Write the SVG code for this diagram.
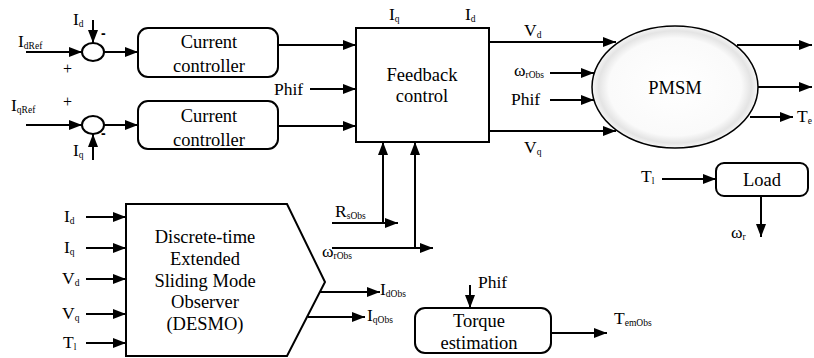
<svg xmlns="http://www.w3.org/2000/svg" width="814" height="358" viewBox="0 0 814 358" font-family="'Liberation Serif', 'Times New Roman', serif">
<defs>
<marker id="ah" markerUnits="userSpaceOnUse" markerWidth="13" markerHeight="10" refX="13" refY="5" orient="auto">
<path d="M0,0 L13,5 L0,10 z" fill="#000"/>
</marker>
<radialGradient id="pg" cx="0.5" cy="0.5" r="0.5">
<stop offset="0" stop-color="#ffffff"/>
<stop offset="0.8" stop-color="#fafafa"/>
<stop offset="0.92" stop-color="#e4e4e4"/>
<stop offset="1" stop-color="#f6f6f6"/>
</radialGradient>
<style>
text{fill:#000}
.big{font-size:18.5px}
.lbl{font-size:17.5px}
.s{font-size:9.5px}
.box{fill:#fff;stroke:#000;stroke-width:2}
.ar{stroke:#000;stroke-width:2;fill:none;marker-end:url(#ah)}
</style>
</defs>
<rect width="814" height="358" fill="#fff"/>

<g id="connectors">
<line class="ar" x1="26" y1="52" x2="82" y2="52"/>
<line class="ar" x1="93" y1="20" x2="93" y2="43"/>
<line class="ar" x1="104" y1="52" x2="138" y2="52"/>
<line class="ar" x1="26" y1="125" x2="82" y2="125"/>
<line class="ar" x1="93" y1="160" x2="93" y2="134"/>
<line class="ar" x1="104" y1="125" x2="138" y2="125"/>
<line class="ar" x1="278" y1="45" x2="356" y2="45"/>
<line class="ar" x1="310" y1="89" x2="356" y2="89"/>
<line class="ar" x1="278" y1="126" x2="356" y2="126"/>
<line class="ar" x1="489" y1="42" x2="616" y2="42"/>
<line class="ar" x1="550" y1="73" x2="594" y2="73"/>
<line class="ar" x1="550" y1="100" x2="594" y2="100"/>
<line class="ar" x1="489" y1="131" x2="616" y2="131"/>
<line class="ar" x1="737" y1="45" x2="812" y2="45"/>
<line class="ar" x1="758" y1="87" x2="812" y2="87"/>
<line class="ar" x1="750" y1="117" x2="793" y2="117"/>
<line class="ar" x1="662" y1="179" x2="716" y2="179"/>
<line class="ar" x1="761" y1="196" x2="761" y2="237"/>
<line class="ar" x1="86" y1="217" x2="126" y2="217"/>
<line class="ar" x1="86" y1="248" x2="126" y2="248"/>
<line class="ar" x1="86" y1="279" x2="126" y2="279"/>
<line class="ar" x1="86" y1="314" x2="126" y2="314"/>
<line class="ar" x1="86" y1="343" x2="126" y2="343"/>
<line class="ar" x1="332" y1="223" x2="398" y2="223"/>
<line class="ar" x1="383" y1="223" x2="383" y2="142"/>
<line class="ar" x1="332" y1="248" x2="433" y2="248"/>
<line class="ar" x1="415" y1="248" x2="415" y2="142"/>
<line class="ar" x1="320" y1="292" x2="380" y2="292"/>
<line class="ar" x1="308" y1="317" x2="365" y2="317"/>
<line class="ar" x1="470" y1="285" x2="470" y2="308"/>
<line class="ar" x1="551" y1="333" x2="607" y2="333"/>
</g>

<g id="sum1">
<ellipse cx="93" cy="52" rx="11" ry="9" class="box"/>
<text class="lbl" x="18" y="47">I<tspan class="s" dy="1.5">dRef</tspan></text>
<text class="lbl" x="73" y="25">I<tspan class="s" dy="2">d</tspan></text>
<text x="101" y="38" font-family="'Liberation Sans', sans-serif" font-weight="bold" font-size="14">-</text>
<text x="63" y="74" font-size="16">+</text>
</g>
<g id="sum2">
<ellipse cx="93" cy="125" rx="11" ry="9" class="box"/>
<text class="lbl" x="11" y="111">I<tspan class="s" dy="2">qRef</tspan></text>
<text class="lbl" x="73" y="156">I<tspan class="s" dy="2">q</tspan></text>
<text x="101" y="138" font-family="'Liberation Sans', sans-serif" font-weight="bold" font-size="14">-</text>
<text x="63" y="107" font-size="16">+</text>
</g>

<g id="cc1">
<rect x="138" y="28" width="140" height="49" rx="10" class="box"/>
<text class="big" x="209" y="48" text-anchor="middle">Current</text>
<text class="big" x="209" y="72" text-anchor="middle">controller</text>
</g>
<g id="cc2">
<rect x="138" y="101" width="140" height="48" rx="10" class="box"/>
<text class="big" x="209" y="122" text-anchor="middle">Current</text>
<text class="big" x="209" y="146" text-anchor="middle">controller</text>
</g>

<g id="feedback">
<rect x="356" y="28" width="133" height="114" class="box"/>
<text class="big" x="422" y="81" text-anchor="middle">Feedback</text>
<text class="big" x="422" y="102" text-anchor="middle">control</text>
<text class="lbl" x="274" y="95">Phif</text>
<text class="lbl" x="389" y="20">I<tspan class="s" dy="2">q</tspan></text>
<text class="lbl" x="465" y="20">I<tspan class="s" dy="2">d</tspan></text>
</g>

<g id="pmsm">
<ellipse cx="675" cy="87" rx="83" ry="61" fill="url(#pg)" stroke="#000" stroke-width="1.5"/>
<text x="675" y="94" text-anchor="middle" font-size="18.5">PMSM</text>
<text class="lbl" x="524" y="36">V<tspan class="s" dy="2">d</tspan></text>
<text class="lbl" x="514" y="76">ω<tspan class="s" dy="2">rObs</tspan></text>
<text class="lbl" x="511" y="105">Phif</text>
<text class="lbl" x="524" y="153">V<tspan class="s" dy="2">q</tspan></text>
<text class="lbl" x="797" y="122">T<tspan class="s" dy="2">e</tspan></text>
</g>

<g id="load">
<rect x="716" y="163" width="92" height="33" rx="8" class="box"/>
<text class="big" x="762" y="186" text-anchor="middle">Load</text>
<text class="lbl" x="641" y="182">T<tspan class="s" dy="2">l</tspan></text>
<text class="lbl" x="731" y="238">ω<tspan class="s" dy="2">r</tspan></text>
</g>

<g id="desmo">
<polygon points="126,204 287,204 325,282 287,356 126,356" class="box"/>
<text class="big" x="205" y="243" text-anchor="middle">Discrete-time</text>
<text class="big" x="205" y="265" text-anchor="middle">Extended</text>
<text class="big" x="205" y="287" text-anchor="middle">Sliding Mode</text>
<text class="big" x="205" y="308" text-anchor="middle">Observer</text>
<text class="big" x="205" y="330" text-anchor="middle">(DESMO)</text>
<text class="lbl" x="64" y="222">I<tspan class="s" dy="2">d</tspan></text>
<text class="lbl" x="64" y="253">I<tspan class="s" dy="2">q</tspan></text>
<text class="lbl" x="62" y="284">V<tspan class="s" dy="2">d</tspan></text>
<text class="lbl" x="62" y="319">V<tspan class="s" dy="2">q</tspan></text>
<text class="lbl" x="63" y="348">T<tspan class="s" dy="2">l</tspan></text>
<text class="lbl" x="335" y="217">R<tspan class="s" dy="2">sObs</tspan></text>
<text class="lbl" x="322" y="257">ω<tspan class="s" dy="2">rObs</tspan></text>
<text class="lbl" x="380" y="295">I<tspan class="s" dy="2">dObs</tspan></text>
<text class="lbl" x="367" y="321">I<tspan class="s" dy="2">qObs</tspan></text>
</g>

<g id="torque">
<rect x="415" y="308" width="136" height="45" rx="10" class="box"/>
<text class="big" x="479" y="327" text-anchor="middle">Torque</text>
<text class="big" x="479" y="349" text-anchor="middle">estimation</text>
<text class="lbl" x="478" y="288">Phif</text>
<text class="lbl" x="614" y="324">T<tspan class="s" dy="2">emObs</tspan></text>
</g>
</svg>
